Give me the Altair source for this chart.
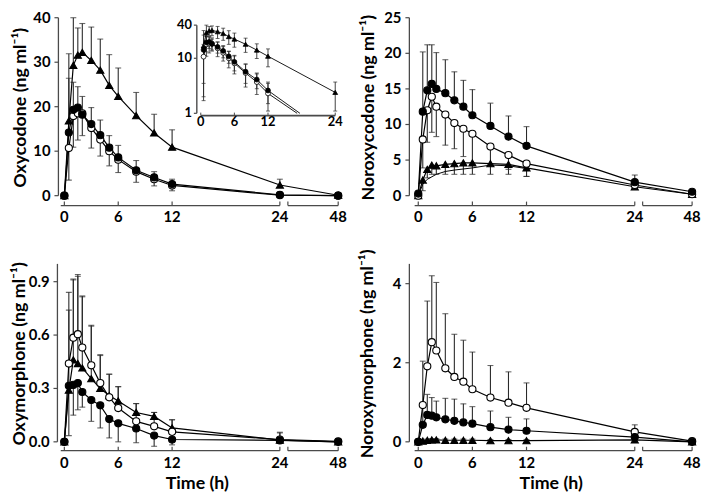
import altair as alt
import pandas as pd

# ---------------- data ----------------
T = [0, 0.5, 1, 1.5, 2, 3, 4, 5, 6, 8, 10, 12, 24, 48]
X_TICKS = [0, 6, 12, 24, 48]

# Oxycodone (ng/ml)
oxy_tri = [0, 16.8, 29.3, 31.6, 32.2, 30.4, 28.2, 24.8, 22.3, 18.0, 14.1, 10.9, 2.4, 0.1]
oxy_tri_sd = [0, 15.1, 10.7, 6.1, 6.5, 7.5, 7.0, 6.9, 6.4, 5.2, 4.2, 3.9, 1.3, 0]
oxy_fil = [0, 14.2, 19.3, 19.8, 18.2, 16.1, 13.6, 10.8, 8.6, 5.7, 4.1, 2.6, 0.2, 0]
oxy_fil_sd = [0, 12.2, 6.2, 4.7, 4.1, 3.7, 3.4, 2.7, 2.7, 2.2, 1.3, 1.1, 0, 0]
oxy_opn = [0, 10.7, 17.9, 18.5, 18.5, 15.2, 12.6, 10.0, 8.1, 5.4, 3.7, 2.3, 0.1, 0]
oxy_opn_sd = [0, 7.2, 7.0, 6.0, 5.0, 4.5, 3.7, 3.3, 2.9, 2.4, 1.5, 1.2, 0, 0]
# inset terminal lines of the circle groups (time at which they reach 1 ng/ml)
inset_end_t = {"fil": 17.7, "opn": 17.2}
inset_end_v = 1.0

# Noroxycodone
nor_fil = [0.3, 11.8, 14.8, 15.7, 15.0, 14.4, 13.4, 12.5, 11.3, 9.8, 8.3, 7.0, 1.9, 0.55]
nor_fil_sd = [0, 8.4, 6.4, 5.5, 5.1, 4.7, 4.0, 3.7, 3.6, 3.2, 2.9, 2.7, 1.0, 0]
nor_opn = [0, 7.9, 12.0, 13.9, 12.5, 11.4, 10.2, 9.4, 8.7, 6.9, 5.7, 4.5, 1.5, 0.2]
nor_opn_sd = [0, 4.0, 4.5, 5.0, 4.2, 4.3, 3.6, 3.9, 4.3, 2.6, 2.0, 1.8, 0.5, 0]
nor_tri = [0, 2.2, 3.7, 4.3, 4.2, 4.4, 4.5, 4.6, 4.6, 4.5, 4.4, 3.9, 1.25, 0.2]
nor_tri_sd = [0, 1.5, 1.2, 1.3, 1.2, 1.4, 1.5, 1.6, 1.6, 1.5, 1.4, 1.2, 0.35, 0]
nor_fit_t = [0, 0.5, 1, 2, 3, 4, 6, 8, 10, 12]
nor_fit_v = [0, 1.6, 2.3, 3.0, 3.4, 3.6, 3.9, 4.3, 4.2, 3.8]

# Oxymorphone
oxm_opn = [0, 0.44, 0.585, 0.605, 0.53, 0.43, 0.33, 0.25, 0.19, 0.115, 0.087, 0.056, 0.013, 0.003]
oxm_opn_sd = [0, 0.40, 0.33, 0.335, 0.29, 0.22, 0.155, 0.13, 0.12, 0.10, 0.078, 0.068, 0.041, 0]
oxm_fil = [0, 0.315, 0.32, 0.33, 0.28, 0.235, 0.205, 0.128, 0.104, 0.075, 0.035, 0.013, 0.008, 0]
oxm_fil_sd = [0, 0.28, 0.17, 0.15, 0.085, 0.12, 0.127, 0.106, 0.104, 0.08, 0.06, 0.03, 0.01, 0]
oxm_tri = [0, 0.29, 0.46, 0.44, 0.415, 0.355, 0.30, 0.26, 0.23, 0.165, 0.143, 0.078, 0.01, 0]
oxm_tri_sd = [0, 0.45, 0.45, 0.49, 0.40, 0.30, 0.19, 0.12, 0.08, 0.05, 0.022, 0.046, 0.04, 0]

# Noroxymorphone
nxm_opn = [0, 0.93, 1.91, 2.52, 2.31, 1.86, 1.64, 1.52, 1.33, 1.12, 0.99, 0.86, 0.25, 0.02]
nxm_opn_sd = [0, 1.11, 1.65, 1.68, 1.72, 1.38, 1.08, 1.05, 0.94, 0.81, 0.78, 0.63, 0.18, 0]
nxm_fil = [0, 0.43, 0.68, 0.66, 0.62, 0.57, 0.53, 0.49, 0.46, 0.37, 0.31, 0.28, 0.12, 0]
nxm_fil_sd = [0, 0.5, 0.52, 0.46, 0.41, 0.53, 0.55, 0.47, 0.43, 0.41, 0.31, 0.30, 0.05, 0]
nxm_tri = [0, 0.02, 0.04, 0.05, 0.05, 0.04, 0.04, 0.04, 0.04, 0.03, 0.03, 0.03, 0.05, 0]
nxm_tri_sd = [0, 0.03, 0.03, 0.03, 0.03, 0.03, 0.03, 0.03, 0.03, 0.03, 0.03, 0.03, 0.03, 0]

# ---------------- style ----------------
W, H = 701, 492
FONT = "Lato"
EB = "#2a2a2a"
AX = "#4a4a4a"
BREAK_T = 27.3
LAB_FS = 15
YT_FS = 18
XT_FS = 18

shape_scale = alt.Scale(domain=["tri", "opn", "fil"], range=["triangle-up", "circle", "circle"])
fill_scale = alt.Scale(domain=["tri", "opn", "fil"], range=["black", "white", "black"])


def make_df(spec):
    rows = []
    for name, (means, sds, sign) in spec.items():
        for t, m, s in zip(T, means, sds):
            rows.append({"t": t, "v": m, "sd": s, "end": m + sign * s, "s": name})
    return pd.DataFrame(rows)


def text_at(txt, x, y, size, angle=0, align="center", baseline="middle"):
    kw = dict(font=FONT, fontWeight="bold", fontSize=size, color="black", align=align,
              baseline=baseline)
    if angle:
        kw["angle"] = angle
    return alt.Chart(pd.DataFrame({"txt": [txt]})).mark_text(**kw).encode(
        x=alt.value(x), y=alt.value(y), text="txt:N")


def y_axis(ys, ax_x, ydom, yvals, ylabels, fs=LAB_FS, tick=4, pad=4, width=1.3):
    dom = pd.DataFrame({"a": [ydom[0]], "b": [ydom[-1]]})
    line = alt.Chart(dom).mark_rule(color=AX, strokeWidth=width).encode(
        x=alt.value(ax_x), y=alt.Y("a:Q", scale=ys, axis=None), y2="b:Q")
    tdf = pd.DataFrame({"v": yvals, "lab": ylabels})
    ticks = alt.Chart(tdf).mark_rule(color=AX, strokeWidth=1.2).encode(
        x=alt.value(ax_x - tick), x2=alt.value(ax_x), y=alt.Y("v:Q", scale=ys, axis=None))
    labels = alt.Chart(tdf).mark_text(align="right", baseline="middle", font=FONT,
                                      fontWeight="bold", fontSize=fs, color="black").encode(
        x=alt.value(ax_x - tick - pad), y=alt.Y("v:Q", scale=ys, axis=None), text="lab:N")
    return [line, ticks, labels]


def panel(df, xr, yr, ydom, yvals, ylabels, ytitle, title_x, ax_x, xax_y, xtitle=None,
          fit=None):
    xs = alt.Scale(domain=[0, 24, 48], range=xr, nice=False, zero=False)
    ys = alt.Scale(domain=ydom, range=yr, nice=False, zero=False)
    X = alt.X("t:Q", scale=xs, axis=None)
    base = alt.Chart(df)
    bars = base.transform_filter("datum.sd > 0").mark_rule(color=EB, strokeWidth=1.1).encode(
        x=X, y=alt.Y("v:Q", scale=ys, axis=None), y2="end:Q")
    caps = base.transform_filter("datum.sd > 0").mark_tick(
        orient="horizontal", size=6, thickness=1.1, color=EB).encode(
        x=X, y=alt.Y("end:Q", scale=ys, axis=None))
    lines = base.mark_line(color="black", strokeWidth=1.2).encode(
        x=X, y=alt.Y("v:Q", scale=ys, axis=None), detail="s:N")
    layers = [bars, caps, lines]
    if fit is not None:
        layers.append(alt.Chart(fit).mark_line(color="black", strokeWidth=1).encode(
            x=X, y=alt.Y("v:Q", scale=ys, axis=None)))
    layers.append(base.mark_point(filled=True, size=52, stroke="black", strokeWidth=1.1,
                                  opacity=1).encode(
        x=X, y=alt.Y("v:Q", scale=ys, axis=None),
        shape=alt.Shape("s:N", scale=shape_scale, legend=None),
        fill=alt.Fill("s:N", scale=fill_scale, legend=None)))
    # broken x axis
    seg = pd.DataFrame({"a": [-0.4, BREAK_T], "b": [24, 48]})
    layers.append(alt.Chart(seg).mark_rule(color=AX, strokeWidth=1.3).encode(
        x=alt.X("a:Q", scale=xs, axis=None), x2="b:Q", y=alt.value(xax_y)))
    tk = pd.DataFrame({"t": X_TICKS + [BREAK_T]})
    layers.append(alt.Chart(tk).mark_rule(color=AX, strokeWidth=1.2).encode(
        x=alt.X("t:Q", scale=xs, axis=None), y=alt.value(xax_y), y2=alt.value(xax_y - 4)))
    xl = pd.DataFrame({"t": X_TICKS, "lab": [str(v) for v in X_TICKS]})
    layers.append(alt.Chart(xl).mark_text(align="center", baseline="middle", font=FONT,
                                          fontWeight="bold", fontSize=LAB_FS,
                                          color="black").encode(
        x=alt.X("t:Q", scale=xs, axis=None), y=alt.value(xax_y + 12), text="lab:N"))
    # y axis
    layers += y_axis(ys, ax_x, ydom, yvals, ylabels)
    layers.append(text_at(ytitle, title_x, (yr[0] + yr[1]) / 2 + 1, YT_FS, angle=270))
    if xtitle:
        layers.append(text_at(xtitle, (xr[0] + xr[2]) / 2 - 4, xax_y + 34, XT_FS))
    return alt.layer(*layers)


XL = [57, 275, 334]
XR = [415, 634, 692]

p1 = panel(make_df({"tri": (oxy_tri, oxy_tri_sd, 1), "opn": (oxy_opn, oxy_opn_sd, -1),
                    "fil": (oxy_fil, oxy_fil_sd, 1)}),
           XL, [187, 7], [0, 40], [0, 10, 20, 30, 40], ["0", "10", "20", "30", "40"],
           "Oxycodone (ng ml⁻¹)", 13, 51, 197)
p2 = panel(make_df({"tri": (nor_tri, nor_tri_sd, -1), "opn": (nor_opn, nor_opn_sd, -1),
                    "fil": (nor_fil, nor_fil_sd, 1)}),
           XR, [187, 7], [0, 25], [0, 5, 10, 15, 20, 25], ["0", "5", "10", "15", "20", "25"],
           "Noroxycodone (ng ml⁻¹)", 365, 406, 197,
           fit=pd.DataFrame({"t": nor_fit_t, "v": nor_fit_v}))
p3 = panel(make_df({"tri": (oxm_tri, oxm_tri_sd, 1), "opn": (oxm_opn, oxm_opn_sd, 1),
                    "fil": (oxm_fil, oxm_fil_sd, -1)}),
           XL, [436, 256], [0, 1.0], [0, 0.3, 0.6, 0.9], ["0.0", "0.3", "0.6", "0.9"],
           "Oxymorphone (ng ml⁻¹)", 12, 50, 445, xtitle="Time (h)")
p4 = panel(make_df({"tri": (nxm_tri, nxm_tri_sd, 1), "opn": (nxm_opn, nxm_opn_sd, 1),
                    "fil": (nxm_fil, nxm_fil_sd, 1)}),
           XR, [436, 256], [0, 4.5], [0, 2, 4], ["0", "2", "4"],
           "Noroxymorphone (ng ml⁻¹)", 364, 406, 445, xtitle="Time (h)")

# ---------------- inset (log scale) ----------------
irows, lrows = [], []
for name, means, sds, tmax in [("tri", oxy_tri, oxy_tri_sd, 24), ("opn", oxy_opn, oxy_opn_sd, 12),
                               ("fil", oxy_fil, oxy_fil_sd, 12)]:
    for t, m, s in zip(T, means, sds):
        if 0 < t <= tmax:
            irows.append({"t": t, "v": m, "lo": max(m - s, 1.0), "hi": m + s, "s": name})
            lrows.append({"t": t, "v": m, "s": name})
    if name in inset_end_t:
        lrows.append({"t": inset_end_t[name], "v": inset_end_v, "s": name})
idf = pd.DataFrame(irows)
ldf = pd.DataFrame(lrows)

INSET_XT = [0, 6, 12, 24]
INSET_YT = [1, 10, 40]
ixs = alt.Scale(domain=[0, 24], range=[195, 331], nice=False, zero=False)
iys = alt.Scale(type="log", domain=[1, 40], range=[103.7, 14.5], nice=False, clamp=True)
IX = alt.X("t:Q", scale=ixs, axis=None)
ibase = alt.Chart(idf)
ilayers = [
    ibase.mark_rule(color=EB, strokeWidth=0.9).encode(
        x=IX, y=alt.Y("lo:Q", scale=iys, axis=None), y2="hi:Q"),
    ibase.mark_tick(orient="horizontal", size=4, thickness=1, color=EB).encode(
        x=IX, y=alt.Y("hi:Q", scale=iys, axis=None)),
    ibase.transform_filter("datum.lo > 1").mark_tick(
        orient="horizontal", size=4, thickness=1, color=EB).encode(
        x=IX, y=alt.Y("lo:Q", scale=iys, axis=None)),
    alt.Chart(ldf).mark_line(color="black", strokeWidth=0.9).encode(
        x=IX, y=alt.Y("v:Q", scale=iys, axis=None), detail="s:N"),
    ibase.mark_point(filled=True, size=24, stroke="black", strokeWidth=0.8, opacity=1).encode(
        x=IX, y=alt.Y("v:Q", scale=iys, axis=None),
        shape=alt.Shape("s:N", scale=shape_scale, legend=None),
        fill=alt.Fill("s:N", scale=fill_scale, legend=None)),
]
# inset x axis
ilayers.append(alt.Chart(pd.DataFrame({"a": [0], "b": [24]})).mark_rule(
    color=AX, strokeWidth=1.6).encode(x=alt.X("a:Q", scale=ixs, axis=None), x2="b:Q",
                                      y=alt.value(106)))
ixl = pd.DataFrame({"t": INSET_XT, "lab": [str(v) for v in INSET_XT]})
ilayers.append(alt.Chart(ixl).mark_rule(color=AX, strokeWidth=1).encode(
    x=IX, y=alt.value(106), y2=alt.value(103)))
ilayers.append(alt.Chart(ixl).mark_text(align="center", baseline="middle", font=FONT,
                                        fontWeight="bold", fontSize=13, color="black").encode(
    x=IX, y=alt.value(113), text="lab:N"))
ilayers += y_axis(iys, 191, [1, 40], INSET_YT, [str(v) for v in INSET_YT], fs=13, tick=3,
                  pad=2, width=1.4)
inset = alt.layer(*ilayers)

chart = (
    alt.layer(p1, inset, p2, p3, p4)
    .resolve_scale(x="independent", y="independent")
    .properties(width=W, height=H, autosize=alt.AutoSizeParams(type="none"), padding=0)
    .configure_view(stroke=None)
)

chart.save("out.html", embed_options={"renderer": "svg", "actions": False})
